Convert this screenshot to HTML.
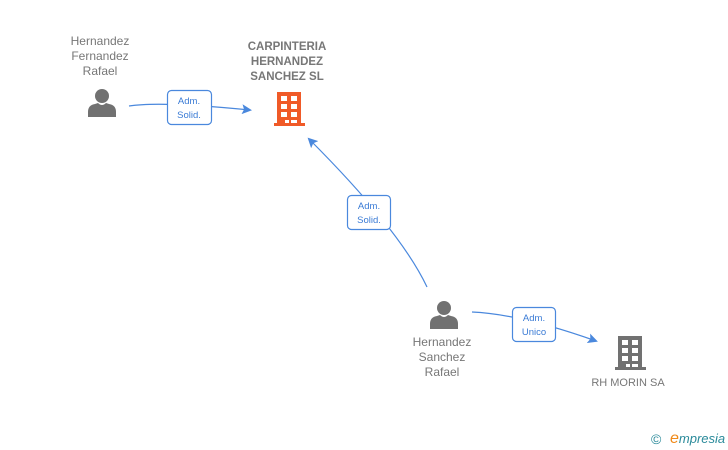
<!DOCTYPE html>
<html><head><meta charset="utf-8"><style>
html,body{margin:0;padding:0;background:#fff;width:728px;height:450px;overflow:hidden}
svg{display:block}
text{font-family:"Liberation Sans",sans-serif}
</style></head><body>
<svg width="728" height="450" viewBox="0 0 728 450" xmlns="http://www.w3.org/2000/svg">
<defs>
<marker id="a" markerWidth="10" markerHeight="10" refX="8" refY="5" orient="auto" markerUnits="userSpaceOnUse">
<path d="M0,0 L10,5 L0,10 L2,5 Z" fill="#4a88dd"/></marker>
<g id="p"><circle cx="14" cy="8" r="7"/><path d="M0,29 L0,24 Q0,17 7,16 L10,15 Q14,19 18,15 L21,16 Q28,17 28,24 L28,29 Z"/></g>
<g id="b"><path fill-rule="evenodd" d="M3,0 H27 V31 H31 V34 H0 V31 H3 Z M7,4 h6 v5 h-6z M17,4 h6 v5 h-6z M7,12 h6 v5 h-6z M17,12 h6 v5 h-6z M7,20 h6 v5 h-6z M17,20 h6 v5 h-6z M11,28 h4 v3 h-4z M17,28 h6 v3 h-6z"/></g>
</defs>
<g fill="none" stroke="#4a88dd" stroke-width="1.2">
<path d="M129,106 Q160,101 250,110" marker-end="url(#a)"/>
<path d="M427,287 Q400,230 309,139" marker-end="url(#a)"/>
<path d="M472,312 Q520,314 596,341" marker-end="url(#a)"/>
</g>
<g fill="#fff" stroke="#4a88dd" stroke-width="1.2">
<rect x="167.5" y="90.5" width="44" height="34" rx="4"/>
<rect x="347.5" y="195.5" width="43" height="34" rx="4"/>
<rect x="512.5" y="307.5" width="43" height="34" rx="4"/>
</g>
<g fill="#3a7bd5" font-size="9.5" text-anchor="middle">
<text x="189" y="104">Adm.</text><text x="189" y="118">Solid.</text>
<text x="369" y="209">Adm.</text><text x="369" y="223">Solid.</text>
<text x="534" y="321">Adm.</text><text x="534" y="335">Unico</text>
</g>
<g fill="#717171"><use href="#p" x="88" y="88"/><use href="#p" x="430" y="300"/><use href="#b" x="615" y="336"/></g>
<use href="#b" x="274" y="92" fill="#f05a28"/>
<g fill="#777" font-size="12" text-anchor="middle">
<text x="100" y="45">Hernandez</text><text x="100" y="60">Fernandez</text><text x="100" y="75">Rafael</text>
<text x="442" y="346">Hernandez</text><text x="442" y="361">Sanchez</text><text x="442" y="376">Rafael</text>
<text x="628" y="386" font-size="11">RH MORIN SA</text>
<g font-weight="bold" font-size="11.5"><text x="287" y="50">CARPINTERIA</text><text x="287" y="65">HERNANDEZ</text><text x="287" y="80">SANCHEZ SL</text></g>
</g>
<text x="651" y="444" font-size="14" fill="#2a8a9a">©</text>
<text x="670" y="443" font-size="13" font-style="italic" fill="#2a8a9a" font-family="Liberation Serif"><tspan fill="#f08a1a" font-size="16">e</tspan>mpresia</text>
</svg>
</body></html>
